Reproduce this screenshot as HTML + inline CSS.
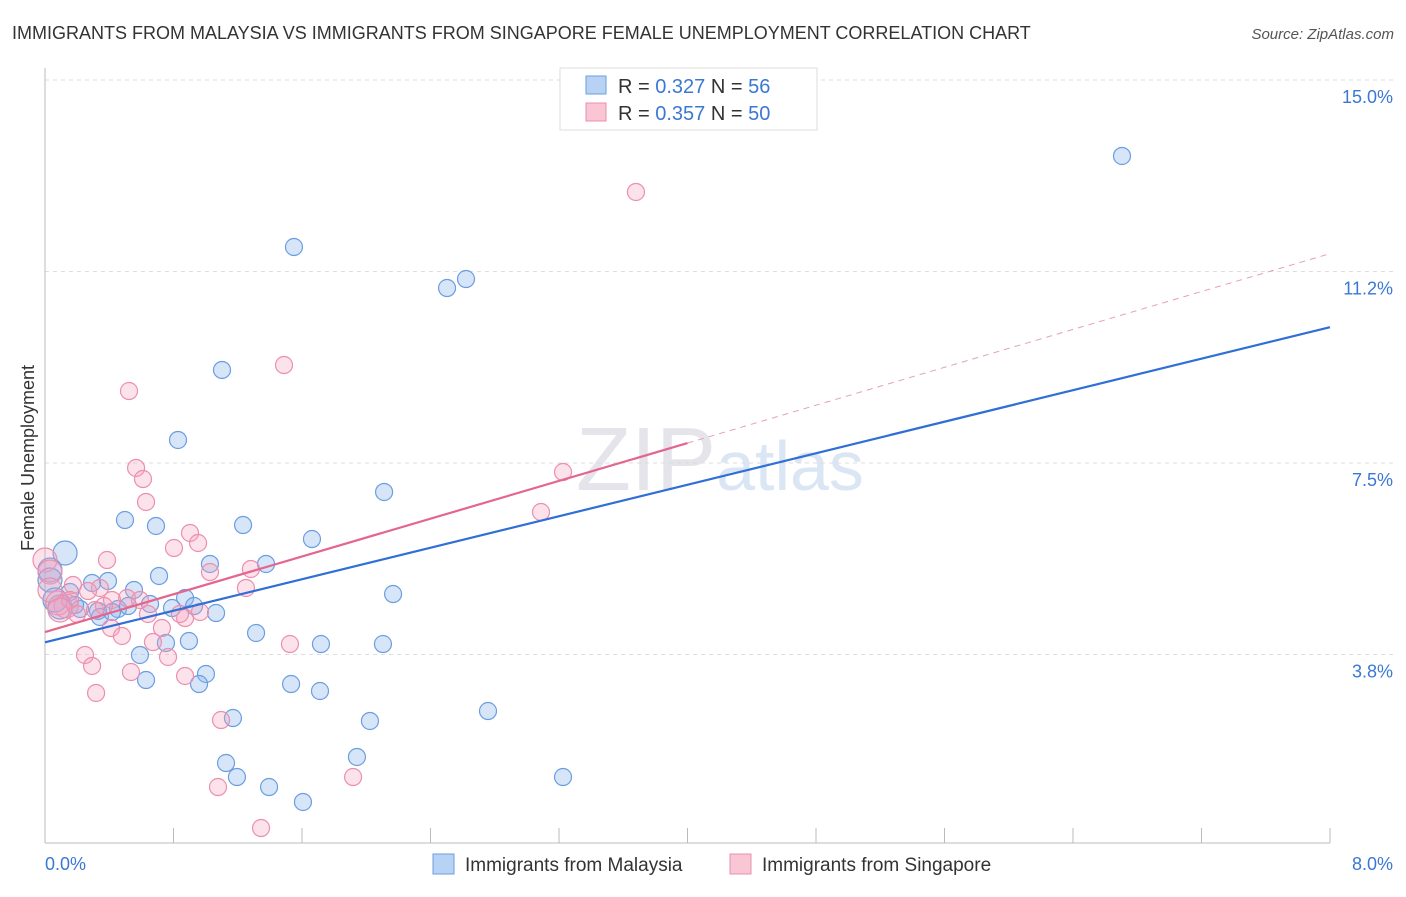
<!DOCTYPE html>
<html><head><meta charset="utf-8"><style>
body{margin:0;background:#fff;font-family:"Liberation Sans",sans-serif}
svg text{font-family:"Liberation Sans",sans-serif}
</style></head><body>
<svg id="c" width="1406" height="892" xmlns="http://www.w3.org/2000/svg">
<text x="12" y="39" font-size="18" fill="#333">IMMIGRANTS FROM MALAYSIA VS IMMIGRANTS FROM SINGAPORE FEMALE UNEMPLOYMENT CORRELATION CHART</text>
<text x="1394" y="39" font-size="15" fill="#555" font-style="italic" text-anchor="end">Source: ZipAtlas.com</text>
<text x="34" y="458" font-size="18" fill="#333" transform="rotate(-90 34 458)" text-anchor="middle">Female Unemployment</text>
<text x="720" y="490" font-size="90" fill="#e4e4ea" text-anchor="middle" font-family="Liberation Serif">ZIP<tspan fill="#dbe6f4" font-family="Liberation Sans" font-size="70">atlas</tspan></text>
<g id="grid"></g><g id="marks"></g>
<g>
<rect x="560" y="68" width="257" height="62" fill="#fff" stroke="#ddd"/>
<rect x="586" y="76" width="20" height="18" fill="#b8d2f3" stroke="#6a9ee0"/>
<rect x="586" y="103" width="20" height="18" fill="#f9c6d6" stroke="#ec8fae"/>
<text x="618" y="93" font-size="20" fill="#333">R = <tspan fill="#3a78d4">0.327</tspan>   N = <tspan fill="#3a78d4">56</tspan></text>
<text x="618" y="120" font-size="20" fill="#333">R = <tspan fill="#3a78d4">0.357</tspan>   N = <tspan fill="#3a78d4">50</tspan></text>
</g>
<g>
<rect x="433" y="854" width="21" height="20" fill="#b8d2f3" stroke="#6a9ee0"/>
<text x="465" y="871" font-size="19" fill="#333">Immigrants from Malaysia</text>
<rect x="730" y="854" width="21" height="20" fill="#f9c6d6" stroke="#ec8fae"/>
<text x="762" y="871" font-size="19" fill="#333">Immigrants from Singapore</text>
</g>
</svg>
<script>
const yTicks=[15.0,11.25,7.5,3.75];
const yTickLabels=["15.0%","11.2%","7.5%","3.8%"];
const xTickLabels=["0.0%","8.0%"];
const bluePx=[[1122,156],[294,247],[447,288],[466,279],[222,370],[178,440],[384,492],[125,520],[156,526],[243,525],[312,539],[65,553],[210,564],[266,564],[50,570],[50,580],[159,576],[108,581],[92,583],[134,590],[393,594],[70,592],[185,598],[150,604],[60,607],[80,609],[98,611],[118,609],[128,606],[172,608],[194,606],[216,613],[100,617],[166,643],[189,641],[256,633],[321,644],[383,644],[140,655],[146,680],[206,674],[199,684],[291,684],[320,691],[488,711],[233,718],[370,721],[357,757],[226,763],[237,777],[563,777],[269,787],[303,802],[75,605],[55,600],[112,612]];
const pinkPx=[[636,192],[284,365],[129,391],[136,468],[143,479],[146,502],[563,472],[541,512],[190,533],[198,543],[174,548],[107,560],[210,572],[251,569],[45,560],[50,572],[73,585],[246,588],[100,588],[88,591],[127,598],[112,600],[66,606],[58,603],[77,614],[148,614],[185,618],[162,628],[111,628],[122,636],[180,614],[153,642],[200,612],[290,644],[168,657],[85,655],[92,666],[131,672],[185,676],[96,693],[221,720],[218,787],[353,777],[261,828],[70,600],[104,606],[140,600],[50,590],[60,610],[95,610]];
// convert read pixel estimates to data values
const blueX=bluePx.map(p=>+((p[0]-45)/1285*8).toFixed(3));
const blueY=bluePx.map(p=>+(15-(p[1]-80)/51.07).toFixed(3));
const pinkX=pinkPx.map(p=>+((p[0]-45)/1285*8).toFixed(3));
const pinkY=pinkPx.map(p=>+(15-(p[1]-80)/51.07).toFixed(3));
const blueLine=[[0,3.99],[8,10.16]];
const pinkLine=[[0,4.19],[4,7.89],[8,11.6]];
const X=v=>45+v/8*1285, Y=v=>80+(15-v)*51.07;
const NS="http://www.w3.org/2000/svg";
const g=document.getElementById('grid'), m=document.getElementById('marks');
function mk(tag,at,parent){const e=document.createElementNS(NS,tag);for(const k in at)e.setAttribute(k,at[k]);parent.appendChild(e);return e;}
yTicks.forEach((t,i)=>{
 const l=mk('line',{x1:45,x2:1394,y1:Y(t),y2:Y(t),stroke:'#ddd','stroke-dasharray':'4,4'},g);
 
 
 const tx=mk('text',{x:1393,y:Y(t)+23,'font-size':18,fill:'#3a78d4','text-anchor':'end'},g);
 tx.textContent=yTickLabels[i];
 
 
});
const ax=mk('line',{x1:45,x2:1330,y1:843,y2:843,stroke:'#bbb'},g);


const ay=mk('line',{x1:45,x2:45,y1:68,y2:843,stroke:'#bbb'},g);


for(let i=0;i<=10;i++){const t=mk('line',{x1:X(i*0.8),x2:X(i*0.8),y1:828,y2:843,stroke:'#bbb'},g);
 
 }
[[0,45,'start'],[1,1393,'end']].forEach(([i,x,a])=>{const t=mk('text',{x:x,y:870,'font-size':18,fill:'#3a78d4','text-anchor':a},g);t.textContent=xTickLabels[i];
 
 });
function dots(xs,ys,fill,stroke,name){xs.forEach((x,i)=>{const r=(x<0.15)?12:8.5;
 const c=mk('circle',{cx:X(x),cy:Y(ys[i]),r:r,fill:fill,stroke:stroke,'stroke-width':1.2},m);
 
 });}
dots(blueX,blueY,'rgba(140,180,235,0.35)','#6a9ee0','malaysia-point');
dots(pinkX,pinkY,'rgba(245,160,190,0.3)','#ec8fae','singapore-point');
const bl=mk('line',{x1:X(blueLine[0][0]),y1:Y(blueLine[0][1]),x2:X(blueLine[1][0]),y2:Y(blueLine[1][1]),stroke:'#2f6fd6','stroke-width':2.2},m);


const pl=mk('line',{x1:X(pinkLine[0][0]),y1:Y(pinkLine[0][1]),x2:X(pinkLine[1][0]),y2:Y(pinkLine[1][1]),stroke:'#e4668f','stroke-width':2.2},m);


const pd=mk('line',{x1:X(pinkLine[1][0]),y1:Y(pinkLine[1][1]),x2:X(pinkLine[2][0]),y2:Y(pinkLine[2][1]),stroke:'#e4a0b8','stroke-width':1,'stroke-dasharray':'6,5'},m);


</script>
</body></html>
